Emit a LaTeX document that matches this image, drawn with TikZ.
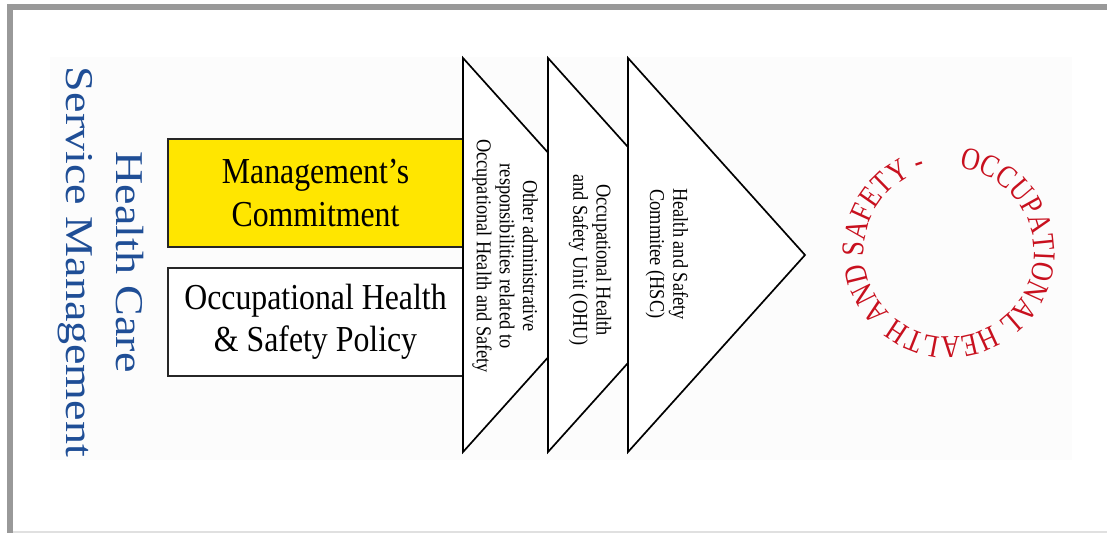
\documentclass[tikz,border=0pt]{standalone}
\usepackage{fontspec}
\setmainfont{Liberation Serif}
\newfontfamily\narrowserif[FakeStretch=0.87]{Liberation Serif}
\newfontfamily\wideserif[FakeStretch=1.17]{Liberation Serif}
\newfontfamily\ringserif[FakeStretch=0.83]{Liberation Serif}
\usepackage{xcolor}
\usepackage{tikz}
\usetikzlibrary{decorations.text}
\definecolor{framegray}{HTML}{999999}
\definecolor{hcblue}{HTML}{1F4E96}
\definecolor{ohsred}{HTML}{C8101E}
\definecolor{mgmtyellow}{HTML}{FFE600}

\begin{document}
\begin{tikzpicture}[x=0.025cm,y=-0.025cm,box/.style={draw=black!85,line width=0.9pt,minimum width=7.375cm,minimum height=2.7cm,align=center,inner sep=0pt,font=\narrowserif\fontsize{26}{30}\selectfont},chev/.style={draw=black,fill=white,line width=1.2pt,line join=miter},chevtext/.style={rotate=-90,align=center,inner sep=0pt,font=\narrowserif\fontsize{15}{16.5}\selectfont},title/.style={rotate=-90,align=center,inner sep=0pt,text=hcblue,font=\wideserif\fontsize{28}{35.5}\selectfont}]
\useasboundingbox (0,0) rectangle (1107,533);
% page frame and the light panel behind the chart
\fill[framegray] (7,4) rectangle (1107,10);
\fill[framegray] (7,4) rectangle (13,533);
\draw[black!12,line width=1pt] (13,532) -- (1107,532);
\fill[black!1] (50,57) rectangle (1072,460);
% side title
\node[title] (hcsm) at (101,262) {Health Care\\Service Management};
% the two base boxes
\node[box,fill=mgmtyellow] (commit) at (315.5,193) {Management’s\\Commitment};
\node[box,fill=white] (policy) at (315.5,322) {Occupational Health\\\& Safety Policy};
% overlapping arrow heads, back to front
\draw[chev] (463,58) -- (640,255) -- (463,452) -- cycle;
\draw[chev] (548,58) -- (725,255) -- (548,452) -- cycle;
\draw[chev] (628,58) -- (805,255) -- (628,452) -- cycle;
\node[chevtext] (other) at (505,256) {Other administrative\\responsibilities related to\\Occupational Health and Safety};
\node[chevtext] (ohu) at (590,260) {Occupational Health\\and Safety Unit (OHU)};
\node[chevtext] (hsc) at (667,254) {Health and Safety\\Commitee (HSC)};
% ring of text, read clockwise from the top
\coordinate (ring) at (949,252);
\path[decorate,decoration={text along path,text={|\color{ohsred}\ringserif\fontsize{22.5}{22.5}\selectfont|OCCUPATIONAL HEALTH AND SAFETY -}}] (ring) ++(83:2.125cm) arc[start angle=83,end angle=-272,radius=2.125cm];
\end{tikzpicture}
\end{document}
